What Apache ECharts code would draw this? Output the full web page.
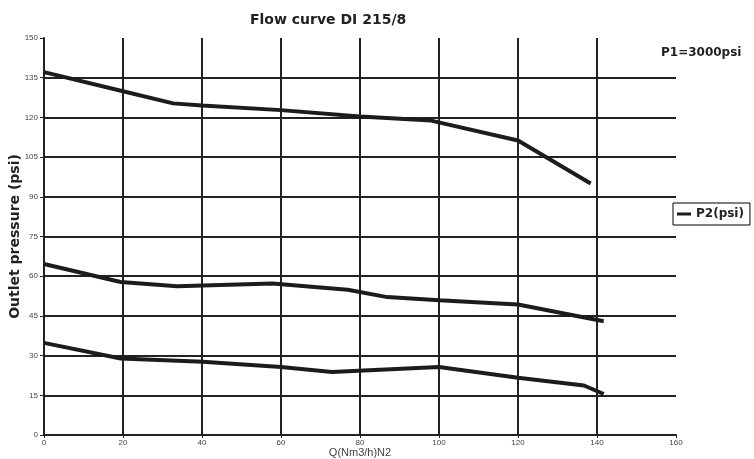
<!DOCTYPE html>
<html>
<head>
<meta charset="utf-8">
<script src="https://cdn.jsdelivr.net/npm/echarts@6/dist/echarts.min.js"></script>
<style>html,body{margin:0;padding:0;background:#fff}#c{width:754px;height:459px}</style>
</head>
<body>
<div id="c"></div>
<script>
// Data
const seriesName = 'P2(psi)';
const upperCurve = [[0,137.1],[20,129.9],[32.7,125.3],[40,124.5],[60,122.75],[80,120.3],[98,118.8],[120,111.3],[138.4,95]];
const middleCurve = [[0,64.6],[19.4,57.8],[33.7,56.2],[57.8,57.2],[76.9,54.9],[86.9,52.1],[100,50.9],[120,49.3],[141.7,43.0]];
const lowerCurve = [[0,34.8],[19.4,28.9],[40.2,27.7],[60,25.7],[72.9,23.8],[100,25.7],[120,21.6],[136.7,18.7],[141.7,15.5]];
const xTicks = [0,20,40,60,80,100,120,140,160];
const yTicks = [0,15,30,45,60,75,90,105,120,135,150];

const chart = echarts.init(document.getElementById('c'));
const lineColor = '#1c1c1c';
const gridColor = '#222';
function mkSeries(d){
  return {name: seriesName, type:'line', data:d, showSymbol:false, symbol:'none', smooth:false,
    lineStyle:{color:lineColor, width:4}, itemStyle:{color:lineColor}, z:5};
}
const xSplitColors = xTicks.map((v,i)=> i===xTicks.length-1 ? 'rgba(0,0,0,0)' : gridColor);
const ySplitColors = yTicks.map((v,i)=> i===yTicks.length-1 ? 'rgba(0,0,0,0)' : gridColor);
chart.setOption({
  animation:false,
  backgroundColor:'#fff',
  title:{text:'Flow curve DI 215/8', left:245, top:8,
    textStyle:{fontFamily:'DejaVu Sans', fontWeight:'bold', fontSize:14, color:'#222'}},
  grid:{left:44, right:78, top:38, bottom:24, containLabel:false, outerBoundsMode:'none'},
  legend:{data:[seriesName], left:673, top:203, orient:'vertical',
    icon:'rect', itemWidth:14, itemHeight:3, itemGap:0,
    borderColor:'#000', borderWidth:1, padding:[5,6,5,4],
    textStyle:{fontFamily:'DejaVu Sans', fontWeight:'bold', fontSize:12, color:'#222'}},
  graphic:[{type:'text', left:661, top:47,
    style:{text:'P1=3000psi', font:'bold 12px "DejaVu Sans"', fill:'#222'}}],
  xAxis:{type:'value', min:0, max:160, interval:20,
    name:'Q(Nm3/h)N2', nameLocation:'middle', nameGap:12, nameMoveOverlap:false,
    nameTextStyle:{fontFamily:'Liberation Sans', fontSize:11, color:'#444'},
    axisLine:{show:true, onZero:false, lineStyle:{color:gridColor, width:2}},
    axisTick:{show:true, length:3, lineStyle:{color:gridColor}},
    axisLabel:{fontSize:8, color:'#444', margin:4, fontFamily:'Liberation Sans'},
    splitLine:{show:true, lineStyle:{color:xSplitColors, width:2}}},
  yAxis:{type:'value', min:0, max:150, interval:15,
    name:'Outlet pressure (psi)', nameLocation:'middle', nameGap:22, nameRotate:90, nameMoveOverlap:false,
    nameTextStyle:{fontFamily:'DejaVu Sans', fontWeight:'bold', fontSize:14, color:'#222'},
    axisLine:{show:true, lineStyle:{color:gridColor, width:2}},
    axisTick:{show:true, length:4, lineStyle:{color:gridColor}},
    axisLabel:{fontSize:8, color:'#444', margin:6, fontFamily:'Liberation Sans'},
    splitLine:{show:true, lineStyle:{color:ySplitColors, width:2}}},
  series:[mkSeries(upperCurve), mkSeries(middleCurve), mkSeries(lowerCurve)]
});
</script>
</body>
</html>
